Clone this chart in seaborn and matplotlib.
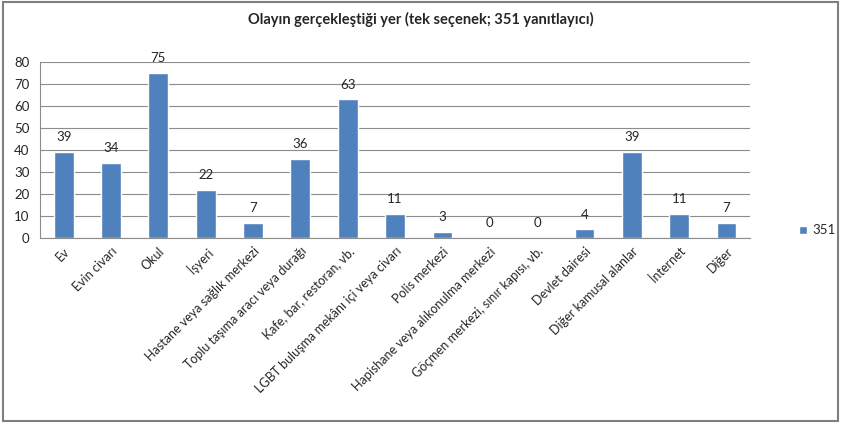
import pandas as pd
import numpy as np
import seaborn as sns
import matplotlib.pyplot as plt
from matplotlib.patches import Patch, Rectangle

# data
places = ['Ev', 'Evin civarı', 'Okul', 'İşyeri', 'Hastane veya sağlık merkezi',
          'Toplu taşıma aracı veya durağı', 'Kafe, bar, restoran, vb.',
          'LGBT buluşma mekânı içi veya civarı', 'Polis merkezi',
          'Hapishane veya alıkonulma merkezi', 'Göçmen merkezi, sınır kapısı, vb.',
          'Devlet dairesi', 'Diğer kamusal alanlar', 'İnternet', 'Diğer']
counts = [39, 34, 75, 22, 7, 36, 63, 11, 3, 0, 0, 4, 39, 11, 7]
series_name = '351'
title = 'Olayın gerçekleştiği yer (tek seçenek; 351 yanıtlayıcı)'

df = pd.DataFrame({'yer': places, 'sayi': counts})

sns.set_style('white')
plt.rcParams['font.family'] = ['Lato', 'DejaVu Sans']
bar_color = '#4F81BD'

fig = plt.figure(figsize=(8.42, 4.26), dpi=100)
ax = fig.add_axes([0.0475, 0.441, 0.8435, 0.4135])

sns.barplot(data=df, x='yer', y='sayi', color=bar_color, width=0.42, ax=ax,
            saturation=1)

ax.set_ylim(0, 80)
ax.set_yticks(range(0, 81, 10))
ax.yaxis.grid(True, color='#8c8c8c', linewidth=0.8)
ax.set_axisbelow(True)
ax.set_xlim(-0.5, len(places) - 0.5)
for s in ['top', 'right']:
    ax.spines[s].set_visible(False)
for s in ['left', 'bottom']:
    ax.spines[s].set_color('#8c8c8c')
    ax.spines[s].set_linewidth(0.8)

ax.set_xticks(np.arange(len(places) + 1) - 0.5, minor=True)
ax.tick_params(axis='x', which='minor', length=4, color='#8c8c8c', direction='in')
ax.tick_params(axis='x', which='major', length=0, pad=5)
ax.tick_params(axis='y', length=4, color='#8c8c8c', direction='out', labelsize=9.5)
ax.set_xticklabels(places, rotation=45, ha='right', rotation_mode='anchor', fontsize=9)
ax.set_xlabel('')
ax.set_ylabel('')

for i, v in enumerate(counts):
    ax.text(i, v + 4, str(v), ha='center', va='bottom', fontsize=9.5)

fig.text(0.5, 0.955, title, ha='center', va='center', fontsize=10.5, fontweight='bold')

ax.legend(handles=[Patch(facecolor=bar_color, label=series_name)],
          loc='center left', bbox_to_anchor=(0.935, 0.459), bbox_transform=fig.transFigure,
          frameon=False, handlelength=0.6, handleheight=0.6, handletextpad=0.4, fontsize=9.5)

fig.patches.append(Rectangle((0.003, 0.012), 0.992, 0.983, transform=fig.transFigure,
                             fill=False, edgecolor='#7f7f7f', linewidth=1.5))

fig.savefig('out.png', dpi=100)
